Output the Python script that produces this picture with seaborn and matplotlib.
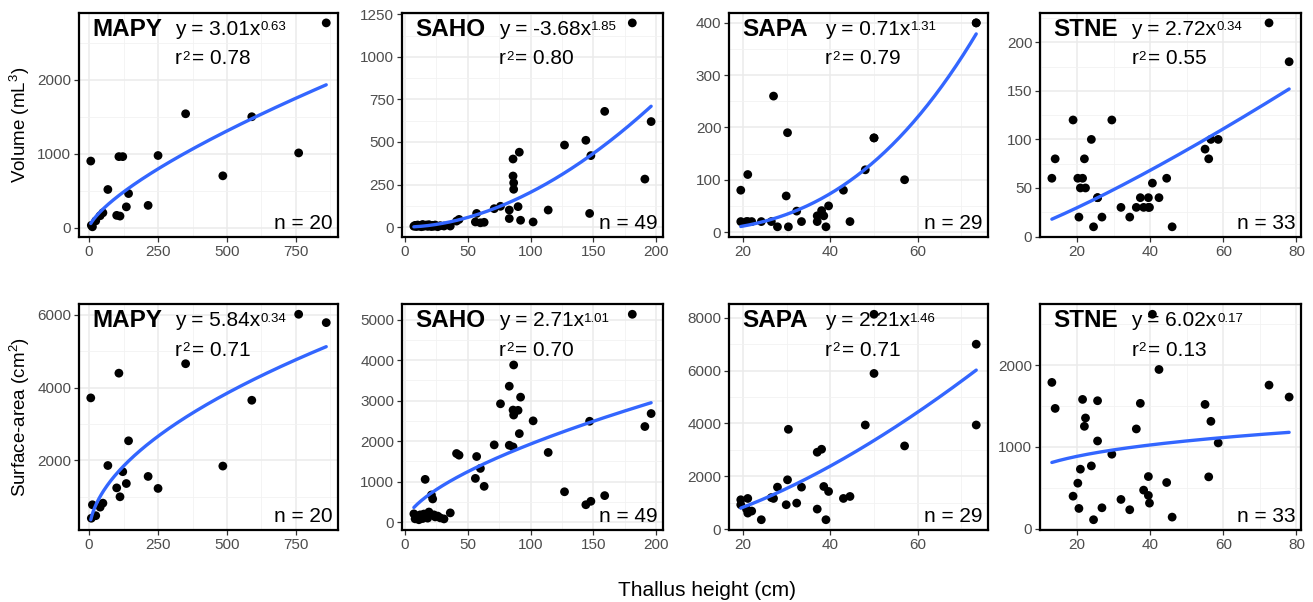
import numpy as np
import pandas as pd
import seaborn as sns
import matplotlib.pyplot as plt
from matplotlib.ticker import MultipleLocator

# data: thallus height (cm), volume (mL3), surface area (cm2)
species = ['MAPY', 'SAHO', 'SAPA', 'STNE']

mapy_h = [6, 8, 12, 24, 40, 50, 68, 100, 108, 112, 122, 135, 143, 214, 250, 350, 485, 590, 760, 860]
mapy_vol = [900, 30, 10, 90, 160, 200, 515, 165, 960, 155, 960, 280, 460, 300, 975, 1540, 700, 1500, 1010, 2770]
mapy_area = [3720, 410, 780, 480, 715, 825, 1860, 1245, 4400, 1000, 1690, 1365, 2540, 1560, 1230, 4660, 1845, 3655, 6020, 5790]

saho_h = [7, 8, 9, 10, 11, 12, 13, 14, 15, 16, 17, 18, 19, 20, 21, 22, 23, 24, 26, 28, 31, 36, 41, 43,
          56, 57, 60, 63, 71, 76, 83, 83, 86, 86, 86.5, 86.5, 90, 91, 92, 102, 114, 127, 144, 147, 148,
          159, 181, 191, 196]
saho_vol = [5, 10, 3, 12, 6, 8, 2, 15, 5, 10, 12, 4, 14, 8, 3, 10, 5, 12, 2, 8, 6, 6, 35, 45,
            30, 80, 25, 28, 108, 122, 100, 50, 400, 300, 260, 222, 120, 440, 40, 30, 100, 482, 510, 80, 420,
            680, 1200, 282, 620]
saho_area = [205, 82, 150, 120, 60, 180, 123, 90, 200, 1056, 150, 100, 250, 180, 671, 573, 180, 130, 150, 106, 80, 229, 1694, 1653,
             1080, 1620, 1326, 884, 1907, 2921, 3355, 1898, 2766, 1857, 3879, 2643, 2760, 2185, 3085, 2500, 1720, 750, 430, 2490, 515,
             655, 5130, 2360, 2680]

sapa_h = [19.5, 19.5, 20.8, 21.1, 21.1, 22, 24.2, 26.5, 27, 27.9, 29.9, 30.2, 30.4, 32.3, 33.4, 37, 37,
          38, 38.5, 39, 39.6, 43, 44.5, 48, 50, 50, 57, 73.4, 73.4]
sapa_vol = [80, 20, 20, 110, 20, 20, 20, 20, 260, 10, 69, 190, 10, 40, 20, 31, 20,
            41, 31, 10, 50, 80, 20, 119, 180, 180, 100, 400, 400]
sapa_area = [1118, 930, 766, 1168, 615, 691, 364, 1200, 1168, 1595, 930, 1872, 3780, 992, 1595, 2914, 766,
             3027, 1620, 364, 1432, 1168, 1243, 3943, 8126, 5890, 3152, 6995, 3943]

stne_h = [13.1, 14, 18.9, 20.2, 20.5, 20.9, 21.5, 22, 22.3, 23.9, 24.5, 25.6, 25.6, 26.8, 29.5, 32, 34.4,
          36.2, 37.3, 38.2, 39.5, 39.5, 39.8, 40.6, 42.4, 44.5, 46, 55, 56, 56.6, 58.6, 72.5, 78]
stne_vol = [60, 80, 120, 60, 20, 50, 60, 80, 50, 100, 10, 40, 40, 20, 120, 30, 20,
            30, 40, 30, 40, 30, 30, 55, 40, 60, 10, 90, 80, 100, 100, 220, 180]
stne_area = [1789, 1471, 398, 557, 248, 728, 1581, 1252, 1354, 768, 110, 1073, 1565, 256, 911, 358, 232,
             1220, 1533, 472, 638, 407, 313, 2622, 1947, 565, 142, 1520, 634, 1313, 1049, 1756, 1610]

heights = [mapy_h, saho_h, sapa_h, stne_h]
volumes = [mapy_vol, saho_vol, sapa_vol, stne_vol]
areas = [mapy_area, saho_area, sapa_area, stne_area]

# power curve (y = a * x^b) as drawn, and the printed labels
vol_a = [14.9, 0.0408, 0.003477, 0.815]
vol_b = [0.72, 1.85, 2.70, 1.20]
area_a = [142.8, 106.0, 8.78, 472.0]
area_b = [0.53, 0.63, 1.52, 0.21]

vol_eq = [('3.01', '0.63', '0.78'), ('-3.68', '1.85', '0.80'), ('0.71', '1.31', '0.79'), ('2.72', '0.34', '0.55')]
area_eq = [('5.84', '0.34', '0.71'), ('2.71', '1.01', '0.70'), ('2.21', '1.46', '0.71'), ('6.02', '0.17', '0.13')]

# major tick steps (x, y) per panel
vol_steps = [(250, 1000), (50, 250), (20, 100), (20, 50)]
area_steps = [(250, 2000), (50, 1000), (20, 2000), (20, 1000)]

sns.set_theme(style='white')
plt.rcParams['font.family'] = ['Liberation Sans', 'DejaVu Sans']
plt.rcParams['mathtext.fontset'] = 'custom'
plt.rcParams['mathtext.rm'] = 'Liberation Sans'
plt.rcParams['text.color'] = 'black'
plt.rcParams['axes.labelcolor'] = 'black'

W, H = 1313, 602
fig = plt.figure(figsize=(W / 100, H / 100), dpi=100)

cols = [(79, 338), (402, 663), (729, 988), (1040, 1301)]
rows = [(12.7, 237), (304, 530)]
eq_x = [0.37, 0.37, 0.37, 0.35]


def sup_text(ax, x, y, base, sup, rest=''):
    # main text with a small raised part, and optional text after it
    t1 = ax.text(x, y, base, transform=ax.transAxes, fontsize=15, ha='left', va='center')
    t2 = ax.annotate(sup, xy=(1, 0.93), xycoords=t1, xytext=(0.3, 0), textcoords='offset points',
                     fontsize=9.5, ha='left', va='top')
    if rest:
        ax.annotate(rest, xy=(1, 0), xycoords=(t2, t1), xytext=(1.5, 0), textcoords='offset points',
                    fontsize=15, ha='left', va='bottom')


def panel(ax, i, h, y, a, b, eq, steps, name):
    df = pd.DataFrame({'h': h, 'y': y})
    sns.scatterplot(data=df, x='h', y='y', ax=ax, color='black', s=40, edgecolor='none', zorder=3)
    xs = np.linspace(min(h), max(h), 200)
    fit = pd.DataFrame({'h': xs, 'y': a * xs ** b})
    sns.lineplot(data=fit, x='h', y='y', ax=ax, color='#3366FF', lw=2.4, zorder=4)
    ax.margins(0.05)
    ax.xaxis.set_major_locator(MultipleLocator(steps[0]))
    ax.xaxis.set_minor_locator(MultipleLocator(steps[0] / 2))
    ax.yaxis.set_major_locator(MultipleLocator(steps[1]))
    ax.yaxis.set_minor_locator(MultipleLocator(steps[1] / 2))
    ax.grid(which='major', color='#EBEBEB', lw=1.1)
    ax.grid(which='minor', color='#F2F2F2', lw=0.6)
    ax.set_axisbelow(True)
    for sp in ax.spines.values():
        sp.set_color('black')
        sp.set_linewidth(1.6)
    ax.tick_params(which='major', direction='out', length=3.5, width=0.9, color='#333333',
                   labelsize=11, labelcolor='#4D4D4D', bottom=True, left=True, pad=2)
    ax.tick_params(which='minor', length=0)
    ax.set_xlabel('')
    ax.set_ylabel('')
    ax.text(0.05, 0.925, name, transform=ax.transAxes, fontsize=17.5, fontweight='bold',
            ha='left', va='center')
    sup_text(ax, eq_x[i], 0.925, 'y = %sx' % eq[0], eq[1])
    sup_text(ax, eq_x[i], 0.795, 'r', '2', '= %s' % eq[2])
    ax.text(0.98, 0.06, 'n = %d' % len(h), transform=ax.transAxes, fontsize=15,
            ha='right', va='center')


for i, name in enumerate(species):
    for r, (ys, a_list, b_list, eqs, steps) in enumerate([(volumes, vol_a, vol_b, vol_eq, vol_steps),
                                                         (areas, area_a, area_b, area_eq, area_steps)]):
        left, right = cols[i]
        top, bottom = rows[r]
        ax = fig.add_axes([left / W, 1 - bottom / H, (right - left) / W, (bottom - top) / H])
        panel(ax, i, heights[i], ys[i], a_list[i], b_list[i], eqs[i], steps[i], name)
        if i == 0:
            ax.set_ylabel(['Volume (mL$\\mathregular{^3}$)', 'Surface-area (cm$\\mathregular{^2}$)'][r],
                          fontsize=13.5, labelpad=4)

fig.text(707 / W, 1 - 590 / H, 'Thallus height (cm)', fontsize=15, ha='center', va='center')

plt.savefig('out.png', dpi=100)
